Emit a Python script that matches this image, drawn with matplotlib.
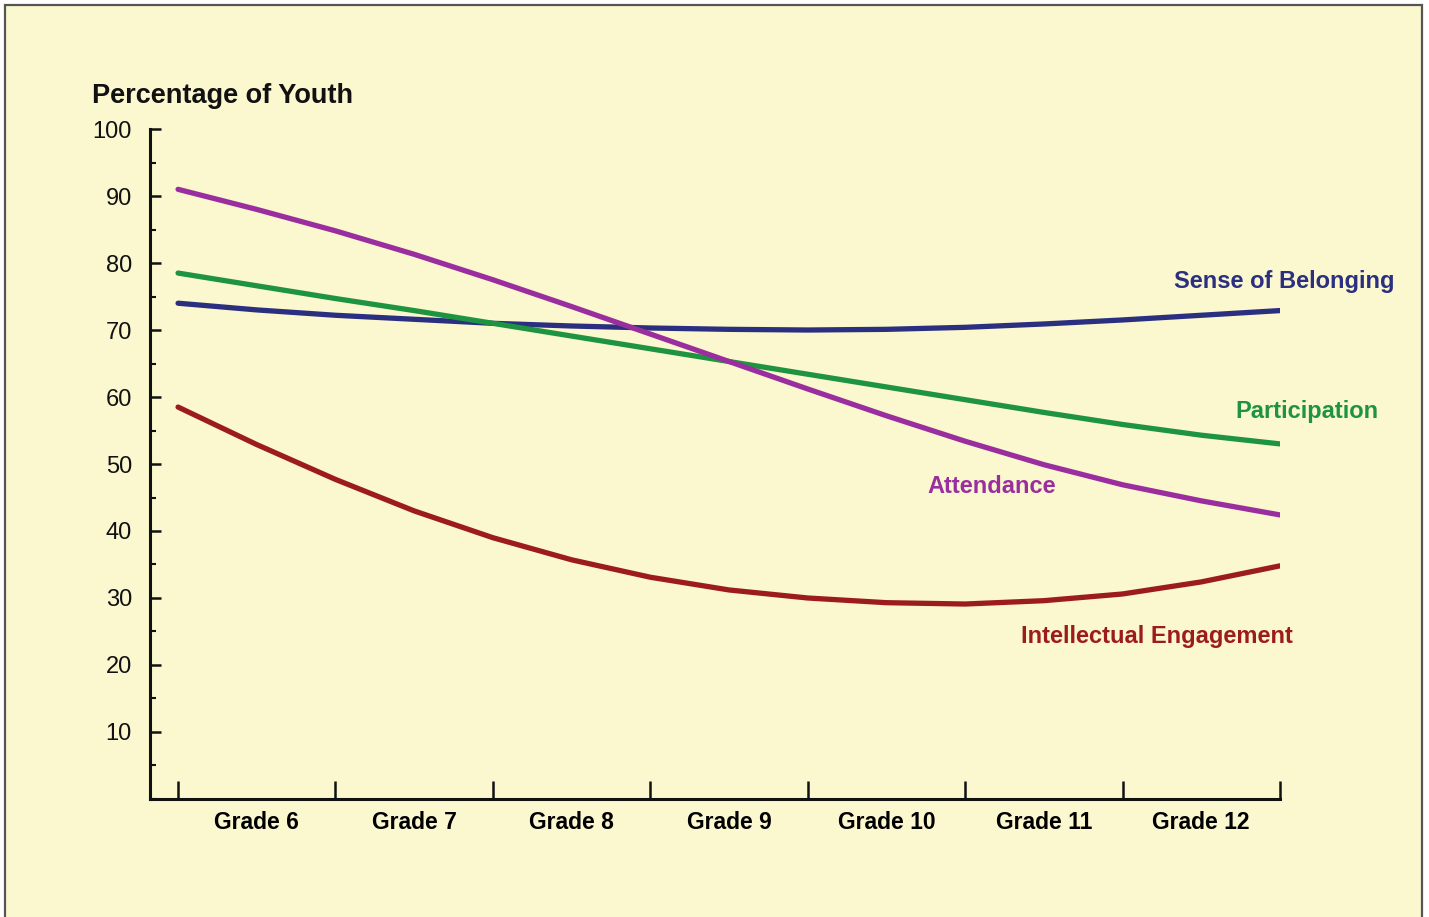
import matplotlib
matplotlib.use("Agg")
import matplotlib.pyplot as plt
import numpy as np
from matplotlib.patches import Rectangle
from matplotlib.ticker import MultipleLocator, FixedLocator

plt.rcParams["font.family"] = ["Liberation Sans", "DejaVu Sans"]

# x positions in grade units: 0 = start of Grade 6, 7 = end of Grade 12 (half-grade steps)
grade_pos = [0, 0.5, 1, 1.5, 2, 2.5, 3, 3.5, 4, 4.5, 5, 5.5, 6, 6.5, 7]
grade_labels = ["Grade 6", "Grade 7", "Grade 8", "Grade 9", "Grade 10", "Grade 11", "Grade 12"]

# values (percentage of youth)
belonging     = [74.0, 73.0, 72.2, 71.6, 71.0, 70.6, 70.3, 70.1, 70.0, 70.1, 70.4, 70.9, 71.5, 72.2, 72.9]
participation = [78.5, 76.6, 74.7, 72.9, 71.0, 69.1, 67.2, 65.3, 63.4, 61.5, 59.6, 57.7, 55.9, 54.3, 53.0]
attendance    = [91.0, 88.0, 84.8, 81.3, 77.5, 73.5, 69.4, 65.3, 61.2, 57.2, 53.4, 49.9, 46.9, 44.5, 42.4]
engagement    = [58.5, 52.9, 47.7, 43.0, 39.0, 35.7, 33.1, 31.2, 30.0, 29.3, 29.1, 29.6, 30.6, 32.4, 34.8]

BG = "#FBF7CF"

fig = plt.figure(figsize=(14.29, 9.17), dpi=100, facecolor="white")
fig.patches.append(Rectangle((0.0035, -0.02), 0.9916, 1.0145, transform=fig.transFigure,
                             facecolor=BG, edgecolor="#555555", linewidth=1.6, zorder=-10))

ax = fig.add_axes([0.105, 0.1287, 0.7907, 0.7306])
ax.set_facecolor("none")

series = [
    (belonging, "#2B2F80", "Sense of Belonging", 7.03, 77.3),
    (participation, "#1E9440", "Participation", 7.17, 57.9),
    (attendance, "#9A2E9E", "Attendance", 5.17, 46.7),
    (engagement, "#9C1C1C", "Intellectual Engagement", 6.22, 24.2),
]
for vals, col, name, lx, ly in series:
    ax.plot(grade_pos, vals, color=col, linewidth=3.8, solid_capstyle="round",
            solid_joinstyle="round")
    ax.text(lx, ly, name, color=col, fontsize=17, fontweight="bold",
            ha="center", va="center", clip_on=False)

ax.set_xlim(-0.178, 7.0)
ax.set_ylim(0, 100)

for s in ["top", "right"]:
    ax.spines[s].set_visible(False)
for s in ["left", "bottom"]:
    ax.spines[s].set_linewidth(2.2)
    ax.spines[s].set_color("#111111")

ax.yaxis.set_major_locator(FixedLocator(range(10, 101, 10)))
ax.yaxis.set_minor_locator(MultipleLocator(5))
ax.tick_params(axis="y", which="major", direction="in", length=8, width=1.8,
               labelsize=17, pad=13, colors="#111111")
ax.tick_params(axis="y", which="minor", direction="in", length=4, width=1.5, colors="#111111")

ax.xaxis.set_major_locator(FixedLocator(range(0, 8)))
ax.xaxis.set_minor_locator(FixedLocator([i + 0.5 for i in range(7)]))
ax.xaxis.set_major_formatter(plt.NullFormatter())
ax.xaxis.set_minor_formatter(plt.FixedFormatter(grade_labels))
ax.tick_params(axis="x", which="major", direction="in", length=13, width=1.8, colors="#111111")
ax.tick_params(axis="x", which="minor", length=0, pad=9, labelsize=16.5)
for lbl in ax.get_xticklabels(minor=True):
    lbl.set_fontweight("bold")

fig.text(0.0644, 0.895, "Percentage of Youth", fontsize=19.5, fontweight="bold",
         ha="left", va="center", color="#111111")

fig.savefig("out.png", dpi=100, facecolor=fig.get_facecolor())
